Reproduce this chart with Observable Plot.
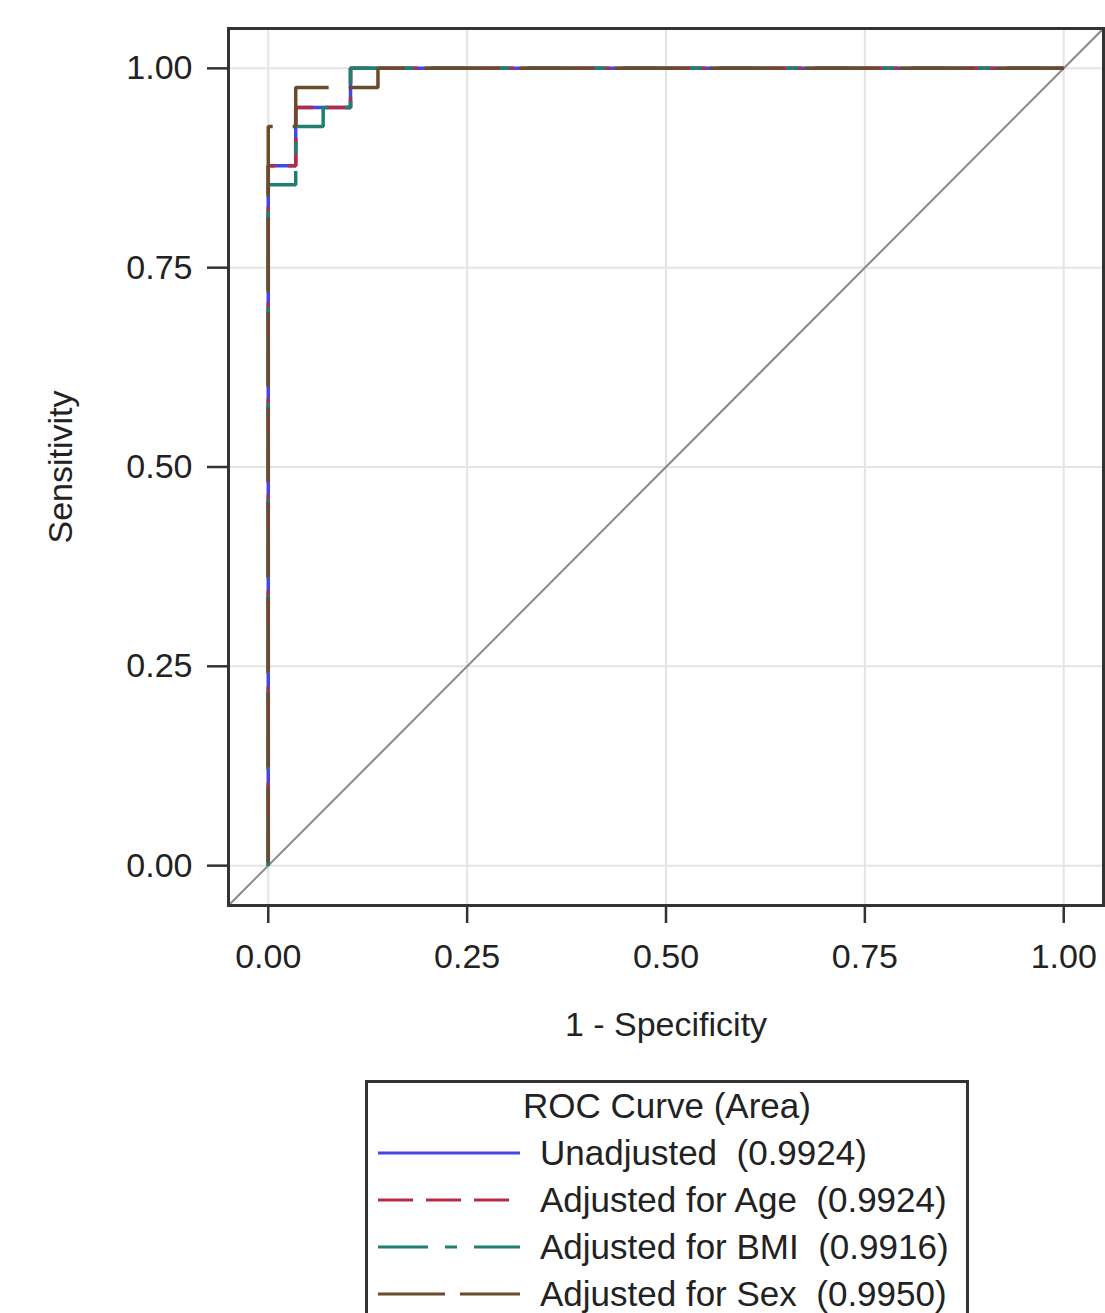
<!DOCTYPE html>
<html>
<head>
<meta charset="utf-8">
<script src="https://cdn.jsdelivr.net/npm/d3@7"></script>
<script src="https://cdn.jsdelivr.net/npm/@observablehq/plot@0.6"></script>
<style>
  body { margin: 0; background: #fff; font-family: "Liberation Sans", Arial, sans-serif; }
  #legend {
    position: relative; margin-left: 365px; width: 598px; margin-top: 15px;
    border: 3px solid #333; border-bottom: none; color: #222; font-size: 35px;
  }
  #legend .title { text-align: center; line-height: 46px; }
  #legend .row { height: 47px; display: flex; align-items: center; white-space: pre; }
  #legend .row svg { margin-left: 10px; margin-right: 20px; flex: none; }
</style>
</head>
<body>
<div id="chart"></div>
<div id="legend"></div>
<script>
// ---- Data ----
const seriesNames = ["Unadjusted", "Adjusted for Age", "Adjusted for BMI", "Adjusted for Sex"];
const seriesAUC = ["0.9924", "0.9924", "0.9916", "0.9950"];

const fprUnadjusted = [0, 0, 0.0345, 0.0345, 0.1034, 0.1034, 1];
const tprUnadjusted = [0, 0.878, 0.878, 0.951, 0.951, 1, 1];

const fprAge = [0, 0, 0.0345, 0.0345, 0.1034, 0.1034, 1];
const tprAge = [0, 0.878, 0.878, 0.951, 0.951, 1, 1];

const fprBMI = [0, 0, 0.0345, 0.0345, 0.069, 0.069, 0.1034, 0.1034, 1];
const tprBMI = [0, 0.854, 0.854, 0.927, 0.927, 0.951, 0.951, 1, 1];

const fprSex = [0, 0, 0.0345, 0.0345, 0.1379, 0.1379, 1];
const tprSex = [0, 0.927, 0.927, 0.976, 0.976, 1, 1];

const refX = [-0.05, 1.05];
const refY = [-0.05, 1.05];

const tickValues = [0, 0.25, 0.5, 0.75, 1];

// ---- Styles ----
const colors = ["#4646e6", "#b52a45", "#1e8070", "#6a4c2a"];
const plotDashes = [null, "35,13", "50,17,12,17", "75,20"];
const plotDashOffsets = [0, 0, 0, -3.5];
const legendDashes = [null, "35,13", "50,17,12,17", "67,15"];

const fprs = [fprUnadjusted, fprAge, fprBMI, fprSex];
const tprs = [tprUnadjusted, tprAge, tprBMI, tprSex];

const seriesData = seriesNames.map((name, i) =>
  fprs[i].map((x, j) => ({series: name, x, y: tprs[i][j]}))
);
const refData = refX.map((x, i) => ({x, y: refY[i]}));

const fmt = d3.format(".2f");

const chart = Plot.plot({
  width: 1105,
  height: 1065,
  marginLeft: 228,
  marginRight: 2,
  marginTop: 28,
  marginBottom: 160,
  x: {domain: [-0.05, 1.05]},
  y: {domain: [-0.05, 1.05]},
  style: {fontFamily: "'Liberation Sans', Arial, sans-serif", color: "#222", background: "#fff"},
  marks: [
    Plot.gridX(tickValues, {stroke: "#e4e4e4", strokeOpacity: 1, strokeWidth: 2}),
    Plot.gridY(tickValues, {stroke: "#e4e4e4", strokeOpacity: 1, strokeWidth: 2}),
    Plot.line(refData, {x: "x", y: "y", stroke: "#888", strokeWidth: 2}),
    ...seriesData.map((d, i) => Plot.line(d, {
      x: "x", y: "y", stroke: colors[i], strokeWidth: 3.5,
      strokeDasharray: plotDashes[i] ?? undefined,
      strokeDashoffset: plotDashOffsets[i],
      strokeLinejoin: "miter", strokeLinecap: "butt"
    })),
    Plot.frame({stroke: "#333", strokeWidth: 3}),
    Plot.axisX(tickValues, {
      tickFormat: fmt, fontSize: 34, tickSize: 18, tickPadding: 20, strokeWidth: 2.5, stroke: "#333",
      label: "1 - Specificity", labelAnchor: "center", labelOffset: 130, labelArrow: "none"
    }),
    Plot.axisY(tickValues, {
      tickFormat: fmt, fontSize: 34, tickSize: 21, tickPadding: 15, strokeWidth: 2.5, stroke: "#333",
      label: "Sensitivity", labelAnchor: "center", labelOffset: 181, labelArrow: "none"
    })
  ]
});
document.getElementById("chart").appendChild(chart);

// ---- Legend ----
const legend = document.getElementById("legend");
const title = document.createElement("div");
title.className = "title";
title.textContent = "ROC Curve (Area)";
legend.appendChild(title);
seriesNames.forEach((name, i) => {
  const row = document.createElement("div");
  row.className = "row";
  const ns = "http://www.w3.org/2000/svg";
  const svg = document.createElementNS(ns, "svg");
  svg.setAttribute("width", 142);
  svg.setAttribute("height", 10);
  const line = document.createElementNS(ns, "line");
  line.setAttribute("x1", 0); line.setAttribute("x2", 142);
  line.setAttribute("y1", 5); line.setAttribute("y2", 5);
  line.setAttribute("stroke", colors[i]);
  line.setAttribute("stroke-width", 3);
  if (legendDashes[i]) line.setAttribute("stroke-dasharray", legendDashes[i]);
  svg.appendChild(line);
  row.appendChild(svg);
  const span = document.createElement("span");
  span.textContent = `${name}  (${seriesAUC[i]})`;
  row.appendChild(span);
  legend.appendChild(row);
});
</script>
</body>
</html>
